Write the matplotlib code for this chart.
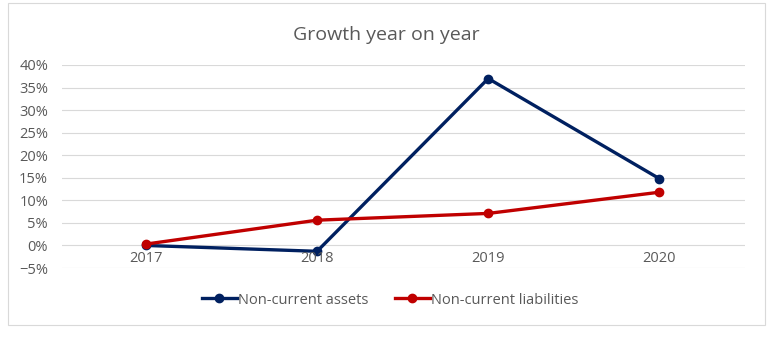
import matplotlib
matplotlib.use('Agg')
import matplotlib.pyplot as plt
from matplotlib.patches import Rectangle
from matplotlib.ticker import PercentFormatter

years = ['2017', '2018', '2019', '2020']
assets = [0.000, -0.013, 0.370, 0.148]
liabilities = [0.003, 0.056, 0.071, 0.118]
yticks = [-0.05, 0, 0.05, 0.10, 0.15, 0.20, 0.25, 0.30, 0.35, 0.40]

grey = '#595959'
plt.rcParams['font.family'] = ['Open Sans', 'DejaVu Sans']

fig = plt.figure(figsize=(7.73, 3.4), dpi=100)
fig.patches.append(Rectangle((8 / 773, 1 - 325 / 340), 757 / 773, 322 / 340,
                             transform=fig.transFigure, fill=False,
                             edgecolor='#d9d9d9', linewidth=0.8))
ax = fig.add_axes([62 / 773, 1 - 268 / 340, (745 - 62) / 773, (268 - 65) / 340])

x = range(len(years))
ax.plot(x, assets, color='#002060', lw=2.4, marker='o', ms=6, label='Non-current assets')
ax.plot(x, liabilities, color='#c00000', lw=2.4, marker='o', ms=6, label='Non-current liabilities')

ax.set_xlim(-0.49, 3.5)
ax.set_ylim(-0.05, 0.40)
ax.set_yticks(yticks)
ax.yaxis.set_major_formatter(PercentFormatter(1.0, decimals=0))
ax.grid(axis='y', color='#d9d9d9', lw=0.8)
ax.set_axisbelow(True)
for s in ax.spines.values():
    s.set_visible(False)
ax.tick_params(axis='y', length=0, labelsize=10.5, labelcolor=grey, pad=10)
ax.set_xticks([])
for i, yr in enumerate(years):
    ax.annotate(yr, (i, 0), xytext=(0, -4), textcoords='offset points',
                ha='center', va='top', fontsize=10.5, color=grey)

fig.text(386 / 773, 1 - 35 / 340, 'Growth year on year', ha='center', va='center',
         fontsize=14, color=grey)
fig.legend(loc='center', bbox_to_anchor=(390 / 773, 1 - 300 / 340), ncol=2, frameon=False,
           fontsize=10.5, labelcolor=grey, handlelength=2.4, handletextpad=0.1,
           columnspacing=1.8)

fig.savefig('out.png', dpi=100)
